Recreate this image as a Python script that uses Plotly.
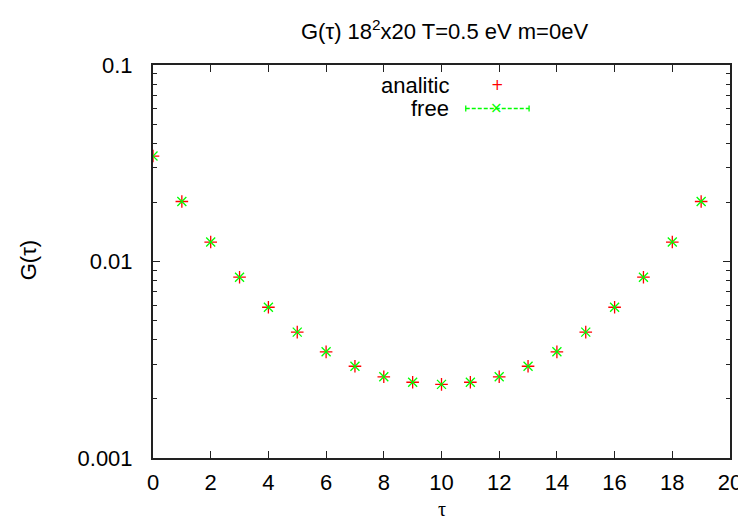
import plotly.graph_objects as go

tau = list(range(20))
analitic = [0.0344, 0.0202, 0.01256, 0.00832, 0.00585, 0.00437, 0.00347, 0.00293,
            0.00259, 0.00243, 0.00237, 0.00243, 0.00259, 0.00293, 0.00347, 0.00437,
            0.00585, 0.00832, 0.01256, 0.0202]
free = [0.0344, 0.0202, 0.01256, 0.00832, 0.00585, 0.00437, 0.00347, 0.00293,
        0.00259, 0.00243, 0.00237, 0.00243, 0.00259, 0.00293, 0.00347, 0.00437,
        0.00585, 0.00832, 0.01256, 0.0202]
x_ticks = list(range(0, 21, 2))
y_ticks = [0.001, 0.01, 0.1]
y_ticktext = ["0.001", "0.01", "0.1"]
y_minor = [k * 10 ** e for e in (-3, -2) for k in range(2, 10)]

FONT = "Liberation Sans, Arial, Helvetica, sans-serif"
FS = 22

# plot area in pixels (for paper-coordinate placement of key and titles)
L, R, T, B = 145, 728, 57, 450
W, H = R - L, B - T
def px(X):
    return (X - L) / W
def py(Y):
    return (B - Y) / H

fig = go.Figure()
fig.add_trace(go.Scatter(x=tau, y=analitic, mode="markers", name="analitic",
                         marker=dict(symbol="cross-thin", size=9,
                                     line=dict(color="#ff0000", width=1.3)),
                         showlegend=False))
fig.add_trace(go.Scatter(x=tau, y=free, mode="markers", name="free",
                         marker=dict(symbol="x-thin", size=9,
                                     line=dict(color="#00ff00", width=1.3)),
                         showlegend=False))

axis_common = dict(showline=True, linecolor="#222222", linewidth=2, mirror="ticks",
                   ticks="inside", tickcolor="#222222", showgrid=False, zeroline=False,
                   tickfont=dict(family=FONT, size=FS, color="black"))

fig.update_xaxes(range=[0, 20], tickvals=x_ticks, ticklen=7, tickwidth=1,
                 ticklabelstandoff=4, **axis_common)
fig.update_yaxes(type="log", range=[-3, -1], tickvals=y_ticks, ticktext=y_ticktext,
                 ticklen=7, tickwidth=1,
                 minor=dict(tickvals=y_minor, ticks="inside", ticklen=4, tickcolor="#222222", tickwidth=1),
                 ticklabelstandoff=14, **axis_common)

# axis titles
fig.add_annotation(text="τ", xref="paper", yref="paper", x=0.5, y=py(514),
                   xanchor="center", yanchor="bottom", showarrow=False,
                   font=dict(family="Liberation Serif", size=20, color="black"))
fig.add_annotation(text="G(τ)", xref="paper", yref="paper", x=px(19), y=py(252),
                   xanchor="center", yanchor="middle", showarrow=False, textangle=-90,
                   font=dict(family=FONT, size=FS, color="black"))

# title
fig.add_annotation(text="G(τ) 18<sup>2</sup>x20 T=0.5 eV m=0eV", xref="paper", yref="paper",
                   x=px(440), y=py(22), showarrow=False, xanchor="center", yanchor="middle",
                   font=dict(family=FONT, size=FS, color="black"))

# key (legend) drawn gnuplot style
y1, y2 = py(77), py(100)
fig.add_annotation(text="analitic", xref="paper", yref="paper", x=px(446), y=y1,
                   xanchor="right", yanchor="middle", showarrow=False,
                   font=dict(family=FONT, size=FS, color="black"))
fig.add_annotation(text="free", xref="paper", yref="paper", x=px(446), y=y2,
                   xanchor="right", yanchor="middle", showarrow=False,
                   font=dict(family=FONT, size=FS, color="black"))
fig.add_annotation(text="+", xref="paper", yref="paper", x=px(493), y=y1,
                   xanchor="center", yanchor="middle", showarrow=False,
                   font=dict(family="DejaVu Sans", size=15, color="#ff0000"))
fig.add_shape(type="line", xref="paper", yref="paper", x0=px(461), x1=px(525), y0=py(100.5), y1=py(100.5),
              line=dict(color="#00ff00", width=1.3, dash="4px,2px"))
for xx in (461, 525):
    fig.add_shape(type="line", xref="paper", yref="paper", x0=px(xx), x1=px(xx),
                  y0=py(103.5), y1=py(97.5), line=dict(color="#00ff00", width=1.3))
fig.add_annotation(text="×", xref="paper", yref="paper", x=px(492), y=y2,
                   xanchor="center", yanchor="middle", showarrow=False,
                   font=dict(family="DejaVu Sans", size=15, color="#00ff00"))

fig.update_layout(width=746, height=520, margin=dict(l=L, r=746 - R, t=T, b=520 - B),
                  plot_bgcolor="white", paper_bgcolor="white", showlegend=False)
fig.write_html("out.html")
